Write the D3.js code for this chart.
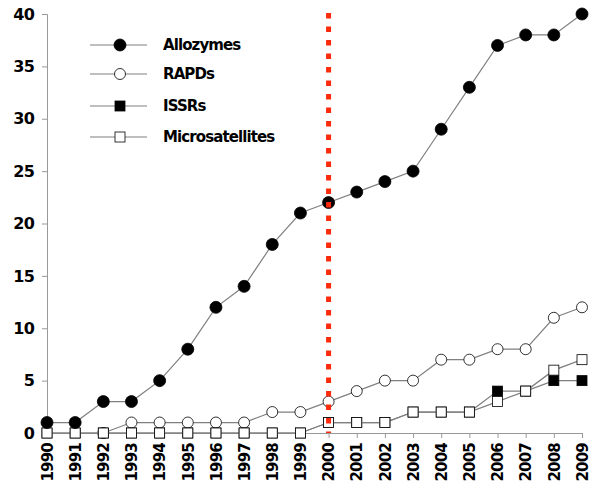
<!DOCTYPE html>
<html lang="en">
<head>
<meta charset="UTF-8">
<script src="https://cdn.jsdelivr.net/npm/d3@7"></script>
<style>
  body { margin: 0; background: #fff; }
  text { font-family: "DejaVu Sans", Verdana, sans-serif; font-weight: bold; fill: #000; }
</style>
</head>
<body>
<div id="viz"></div>
<script>
// data
var years = d3.range(1990, 2010);
var allozymes = [1, 1, 3, 3, 5, 8, 12, 14, 18, 21, 22, 23, 24, 25, 29, 33, 37, 38, 38, 40];
var rapds     = [null, null, 0, 1, 1, 1, 1, 1, 2, 2, 3, 4, 5, 5, 7, 7, 8, 8, 11, 12];
var issrs     = [0, 0, 0, 0, 0, 0, 0, 0, 0, 0, 1, 1, 1, 2, 2, 2, 4, 4, 5, 5];
var micros    = [0, 0, 0, 0, 0, 0, 0, 0, 0, 0, 1, 1, 1, 2, 2, 2, 3, 4, 6, 7];
var yTicks = [0, 5, 10, 15, 20, 25, 30, 35, 40];
var markerYear = 2000;
var legendNames = ["Allozymes", "RAPDs", "ISSRs", "Microsatellites"];

var w = 589, h = 489;
var svg = d3.select("#viz").append("svg").attr("width", w).attr("height", h);

var x = d3.scaleLinear().domain([1990, 2009]).range([47, 582]);
var y = d3.scaleLinear().domain([0, 40]).range([433, 14]);

// axes
var yAxis = svg.append("g").attr("transform", "translate(47,0)")
    .call(d3.axisLeft(y).tickValues(yTicks).tickSize(5).tickPadding(8));
yAxis.select(".domain").attr("stroke", "#999");
yAxis.selectAll(".tick line").attr("stroke", "#999");
yAxis.selectAll(".tick text").style("font-size", "16px").style("letter-spacing", "-0.8px");

var xAxis = svg.append("g").attr("transform", "translate(0,433)")
    .call(d3.axisBottom(x).tickValues(years).tickFormat(d3.format("d")).tickSize(5).tickSizeOuter(0));
xAxis.select(".domain").attr("stroke", "#999");
xAxis.selectAll(".tick line").attr("stroke", "#999");
xAxis.selectAll(".tick text")
    .style("font-size", "15px")
    .style("letter-spacing", "-0.8px")
    .attr("text-anchor", "end")
    .attr("dy", "0.35em")
    .attr("transform", "rotate(-90) translate(-10,-10)")
    .attr("x", 0).attr("y", 10);

var series = [
  {name: "RAPDs", vals: rapds, shape: "circle", fill: "#fff"},
  {name: "ISSRs", vals: issrs, shape: "square", fill: "#000"},
  {name: "Microsatellites", vals: micros, shape: "square", fill: "#fff"},
  {name: "Allozymes", vals: allozymes, shape: "circle", fill: "#000"}
];

var line = d3.line()
    .defined(function(d){ return d.v != null; })
    .x(function(d){ return x(d.year); })
    .y(function(d){ return y(d.v); });

function drawMarker(g, shape, fill, cx, cy) {
  if (shape == "circle") {
    g.append("circle").attr("cx", cx).attr("cy", cy)
      .attr("r", fill == "#000" ? 6 : 5.5)
      .attr("fill", fill).attr("stroke", "#000").attr("stroke-width", 0.8);
  } else {
    g.append("rect").attr("x", cx - 5).attr("y", cy - 5)
      .attr("width", 10).attr("height", 10)
      .attr("fill", fill).attr("stroke", "#000").attr("stroke-width", 0.8);
  }
}

series.forEach(function(s){
  var pts = years.map(function(yr, i){ return {year: yr, v: s.vals[i]}; });
  var g = svg.append("g");
  g.append("path").datum(pts).attr("d", line)
    .attr("fill", "none").attr("stroke", "#808080").attr("stroke-width", 1.2);
  pts.forEach(function(p){
    if (p.v != null) drawMarker(g, s.shape, s.fill, x(p.year), y(p.v));
  });
});

// red dotted line at 2000
svg.append("line")
  .attr("x1", x(markerYear)).attr("x2", x(markerYear))
  .attr("y1", y(40) - 1).attr("y2", y(0))
  .attr("stroke", "#ff2a0a").attr("stroke-width", 5)
  .attr("stroke-dasharray", "5.5,8");

// legend
var legY = [45, 74, 106, 137];
var shapes = {Allozymes: ["circle", "#000"], RAPDs: ["circle", "#fff"], ISSRs: ["square", "#000"], Microsatellites: ["square", "#fff"]};
legendNames.forEach(function(n, i){
  var g = svg.append("g");
  g.append("line").attr("x1", 90).attr("x2", 147).attr("y1", legY[i]).attr("y2", legY[i])
    .attr("stroke", "#808080").attr("stroke-width", 1.2);
  drawMarker(g, shapes[n][0], shapes[n][1], 120, legY[i]);
  g.append("text").attr("x", 163).attr("y", legY[i]).attr("dy", "0.35em")
    .style("font-size", "15px").style("letter-spacing", "-0.9px").text(n);
});
</script>
</body>
</html>
